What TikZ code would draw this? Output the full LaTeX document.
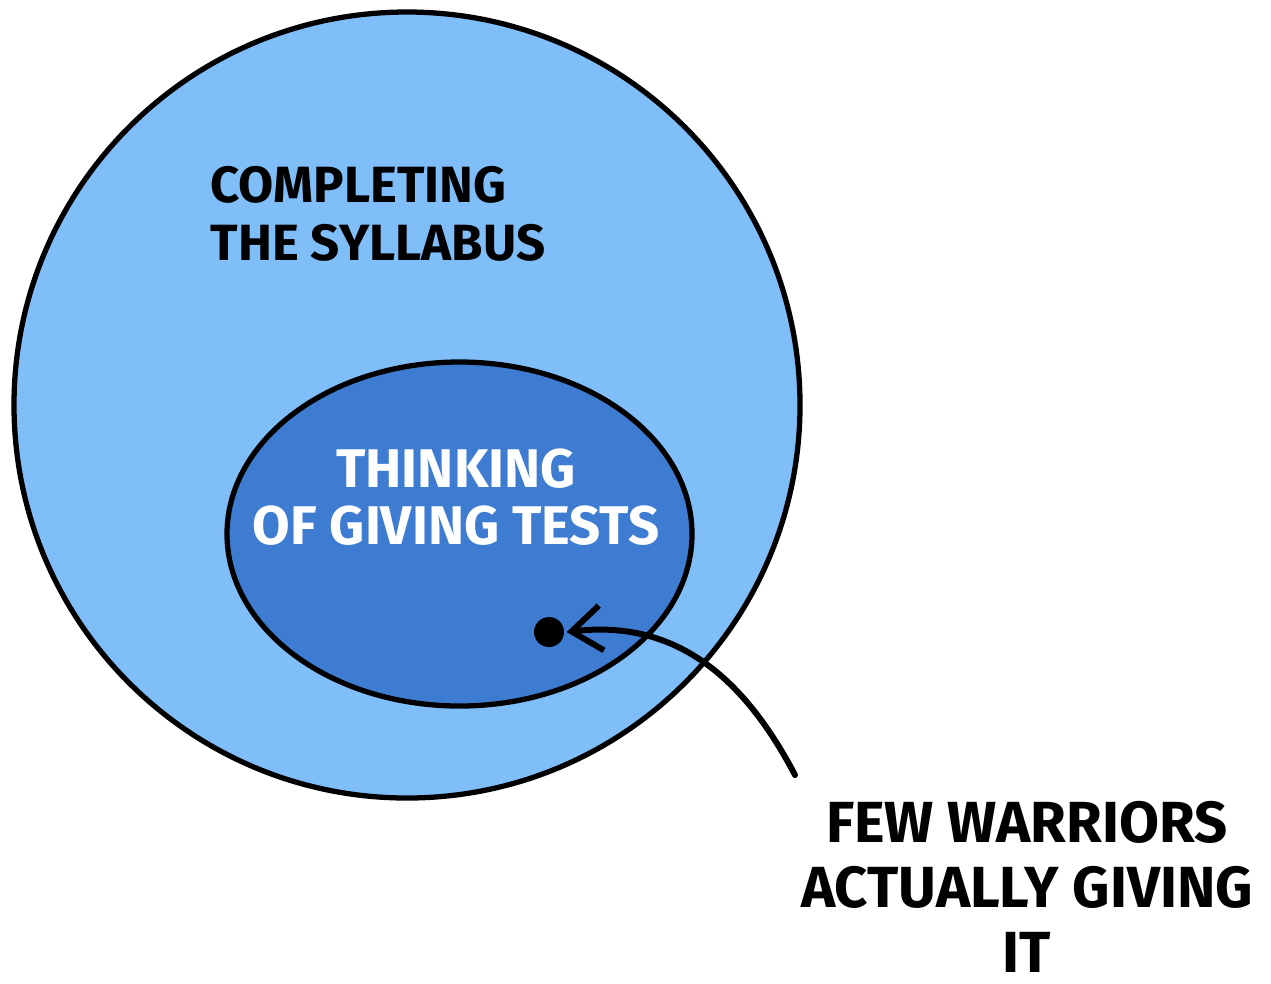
\documentclass[tikz,border=0pt]{standalone}
\usepackage{fontspec}
\setmainfont{Fira Sans}
\usepackage{tikz}
\usetikzlibrary{shapes.geometric,arrows.meta}
\definecolor{outerblue}{RGB}{128,190,250}
\definecolor{innerblue}{RGB}{62,124,210}

\begin{document}
\begin{tikzpicture}[line width=1.5pt,
   set/.style={draw,fill=#1,inner sep=0pt},
   lbl/.style={font=\fontsize{14.5}{16.5}\selectfont\bfseries,inner sep=0pt}]
 \useasboundingbox (0,0) rectangle (12.71,-9.83);
 \node[set=outerblue,circle,minimum size=7.86cm] (S) at (4.07,-4.05) {};
 \node[set=innerblue,ellipse,minimum width=4.65cm,minimum height=3.44cm] (T) at (4.595,-5.34) {};
 \node[fill,circle,minimum size=0.3cm,inner sep=0pt] (W) at (5.49,-6.32) {};
 \node[lbl,align=left,anchor=north west] (ls) at (2.08,-1.64) {COMPLETING\\THE SYLLABUS};
 \node[lbl,align=center,text=white,font=\fontsize{15.5}{16}\selectfont\bfseries] (lt) at (4.56,-4.97) {THINKING\\OF GIVING TESTS};
 \node[lbl,align=center,font=\fontsize{16.5}{18.5}\selectfont\bfseries] (lw) at (10.27,-8.87) {FEW WARRIORS\\ACTUALLY GIVING\\IT};
 \coordinate (a) at (7.95,-7.75);
 \draw[-{Straight Barb[length=3mm,width=4.5mm]},line cap=round,line width=1.7pt]
   (a) .. controls (7.4,-6.7) and (6.7,-6.2) .. (W.east);
\end{tikzpicture}
\end{document}
